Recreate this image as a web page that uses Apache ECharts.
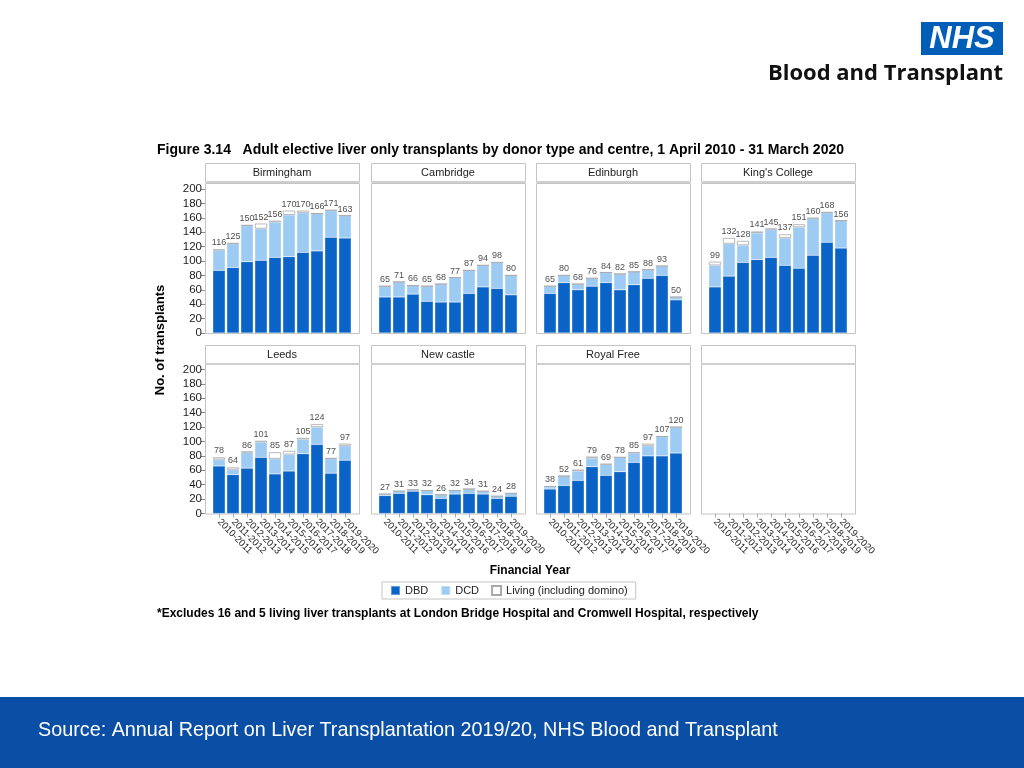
<!DOCTYPE html>
<html>
<head>
<meta charset="utf-8">
<script src="https://cdn.jsdelivr.net/npm/echarts/dist/echarts.min.js"></script>
<style>
html,body{margin:0;padding:0;background:#fff;}
#chart{width:1024px;height:768px;}
</style>
</head>
<body>
<div id="chart"></div>
<script>
// ---------- data ----------
var years = ['2010-2011','2011-2012','2012-2013','2013-2014','2014-2015','2015-2016','2016-2017','2017-2018','2018-2019','2019-2020'];
var centres = ['Birmingham','Cambridge','Edinburgh',"King's College",'Leeds','New castle','Royal Free',''];
var seriesNames = ['DBD','DCD','Living (including domino)'];
var yTicks = {min:0, max:200, interval:20};

var birminghamDBD = [87,91,99,101,105,106,112,114,133,132];
var birminghamDCD = [28,33,50,44,49,58,55,52,37,31];
var birminghamLiving = [1,1,1,7,2,6,3,0,1,0];

var cambridgeDBD = [50,50,54,44,43,43,55,64,62,53];
var cambridgeDCD = [15,21,12,21,25,34,32,30,36,27];
var cambridgeLiving = [0,0,0,0,0,0,0,0,0,0];

var edinburghDBD = [55,70,60,65,70,60,67,76,80,46];
var edinburghDCD = [10,10,8,11,14,22,18,12,13,4];
var edinburghLiving = [0,0,0,0,0,0,0,0,0,0];

var kingsDBD = [64,79,98,102,105,94,90,108,126,118];
var kingsDCD = [30,45,24,37,39,38,57,51,41,38];
var kingsLiving = [5,8,6,2,1,5,4,1,1,0];

var leedsDBD = [66,54,63,78,55,59,83,96,56,74];
var leedsDCD = [9,7,22,21,21,23,20,24,20,20];
var leedsLiving = [3,3,1,2,9,5,2,4,1,3];

var newcastleDBD = [25,28,31,26,21,27,28,27,21,24];
var newcastleDCD = [2,3,2,6,5,5,6,4,3,4];
var newcastleLiving = [0,0,0,0,0,0,0,0,0,0];

var royalFreeDBD = [34,39,46,65,53,58,71,80,80,84];
var royalFreeDCD = [3,13,13,12,15,20,13,14,27,36];
var royalFreeLiving = [1,0,2,2,1,0,1,3,0,0];

var panelData = [
  [birminghamDBD, birminghamDCD, birminghamLiving],
  [cambridgeDBD, cambridgeDCD, cambridgeLiving],
  [edinburghDBD, edinburghDCD, edinburghLiving],
  [kingsDBD, kingsDCD, kingsLiving],
  [leedsDBD, leedsDCD, leedsLiving],
  [newcastleDBD, newcastleDCD, newcastleLiving],
  [royalFreeDBD, royalFreeDCD, royalFreeLiving],
  null
];

// ---------- layout / style ----------
var FONT = '"Liberation Sans", Arial, sans-serif';
var colors = ['#0a64c8', '#9dcbf4', '#ffffff'];
var colLeft = [205, 371, 536, 701];
var frameW = 154;
var rows = [
  {headerTop:163, frameTop:183, gridTop:189, bottom:333},
  {headerTop:345, frameTop:364, gridTop:369.5, bottom:513.5}
];
var gridH = 144;

var grids = [], xAxes = [], yAxes = [], series = [], graphics = [];

centres.forEach(function(name, i){
  var row = i < 4 ? 0 : 1, col = i % 4;
  var R = rows[row], L = colLeft[col];
  grids.push({left: L + 7, width: 140, top: R.gridTop, height: gridH});
  xAxes.push({
    gridIndex: i, type: 'category', data: years,
    axisLine: {show: false},
    axisTick: {show: row === 1, alignWithLabel: true, length: 4, lineStyle: {color: '#aaa'}},
    axisLabel: {show: row === 1, interval: 0, rotate: -45, fontSize: 9.5, color: '#222', margin: 7, fontFamily: FONT, hideOverlap: false}
  });
  yAxes.push({
    gridIndex: i, type: 'value', min: yTicks.min, max: yTicks.max, interval: yTicks.interval, offset: 7,
    axisLine: {show: false},
    splitLine: {show: false},
    axisTick: {show: col === 0, length: 4, lineStyle: {color: '#888'}},
    axisLabel: {show: col === 0, fontSize: 11.5, color: '#222', margin: 3, fontFamily: FONT}
  });
  // frame + header
  graphics.push({type:'rect', silent:true, shape:{x:L+0.5, y:R.frameTop+0.5, width:frameW, height:R.bottom-R.frameTop}, style:{fill:'none', stroke:'#c4c4c4', lineWidth:1}});
  graphics.push({type:'rect', silent:true, shape:{x:L+0.5, y:R.headerTop+0.5, width:frameW, height:18}, style:{fill:'#fff', stroke:'#c4c4c4', lineWidth:1}});
  graphics.push({type:'rect', silent:true, shape:{x:L+0.5, y:R.headerTop+18, width:frameW, height:2}, style:{fill:'#cfcfcf'}});
  graphics.push({type:'text', silent:true, x:L+frameW/2, y:R.headerTop+10, style:{text:name, fill:'#222', font:'11px '+FONT, textAlign:'center', textVerticalAlign:'middle'}});

  var d = panelData[i];
  if (!d) {
    series.push({type:'bar', name:'DBD', xAxisIndex:i, yAxisIndex:i, data:[]});
    return;
  }
  for (var k = 0; k < 3; k++) {
    series.push({
      type: 'bar', name: seriesNames[k], stack: 'p' + i, xAxisIndex: i, yAxisIndex: i,
      data: d[k], barCategoryGap: '12%',
      itemStyle: k === 2 ? {color: colors[k], borderColor: '#a8a8a8', borderWidth: 0.8}
                         : {color: colors[k], borderColor: 'rgba(255,255,255,0.35)', borderWidth: 0.5},
      emphasis: {disabled: true}, animation: false
    });
  }
  var totals = years.map(function(_, j){ return d[0][j] + d[1][j] + d[2][j]; });
  series.push({
    type: 'scatter', name: 'totals', xAxisIndex: i, yAxisIndex: i, symbolSize: 0, data: totals,
    label: {show: true, position: 'top', distance: 2, fontSize: 9, color: '#222', fontFamily: FONT},
    silent: true, animation: false
  });
});

// page texts
graphics.push({type:'text', x:157, y:150, style:{text:'Figure 3.14   Adult elective liver only transplants by donor type and centre, 1 April 2010 - 31 March 2020', font:'bold 14px '+FONT, fill:'#000', textVerticalAlign:'middle'}});
graphics.push({type:'text', x:160, y:340, rotation: Math.PI/2, style:{text:'No. of transplants', font:'bold 13px '+FONT, fill:'#000', textAlign:'center', textVerticalAlign:'middle'}});
graphics.push({type:'text', x:530, y:571, style:{text:'Financial Year', font:'bold 12px '+FONT, fill:'#000', textAlign:'center', textVerticalAlign:'middle'}});
graphics.push({type:'text', x:157, y:614, style:{text:'*Excludes 16 and 5 living liver transplants at London Bridge Hospital and Cromwell Hospital, respectively', font:'bold 12px '+FONT, fill:'#000', textVerticalAlign:'middle'}});
// banner
graphics.push({type:'rect', shape:{x:0, y:697, width:1024, height:71}, style:{fill:'#0a4ea5'}});
graphics.push({type:'text', x:38, y:731, style:{text:'Source: Annual Report on Liver Transplantation 2019/20, NHS Blood and Transplant', font:'19.8px '+FONT, fill:'#fff', textVerticalAlign:'middle'}});
// logo
graphics.push({type:'rect', shape:{x:921, y:22, width:82, height:33}, style:{fill:'#005eb8'}});
graphics.push({type:'text', x:962, y:39, style:{text:'NHS', font:'italic bold 31px '+FONT, fill:'#fff', textAlign:'center', textVerticalAlign:'middle'}});
graphics.push({type:'text', x:1003, y:74, style:{text:'Blood and Transplant', font:'bold 22px "Open Sans", sans-serif', fill:'#111', textAlign:'right', textVerticalAlign:'middle'}});

var chart = echarts.init(document.getElementById('chart'), null, {renderer:'canvas'});
chart.setOption({
  animation: false,
  textStyle: {fontFamily: FONT},
  grid: grids, xAxis: xAxes, yAxis: yAxes, series: series,
  legend: {
    data: seriesNames, left: 382, top: 582,
    borderColor: '#c4c4c4', borderWidth: 1, padding: [3, 8, 3, 8],
    itemWidth: 9, itemHeight: 9, itemGap: 12, icon: 'rect',
    textStyle: {fontSize: 11, color: '#222', fontFamily: FONT},
    selectedMode: false
  },
  graphic: graphics
});
</script>
</body>
</html>
